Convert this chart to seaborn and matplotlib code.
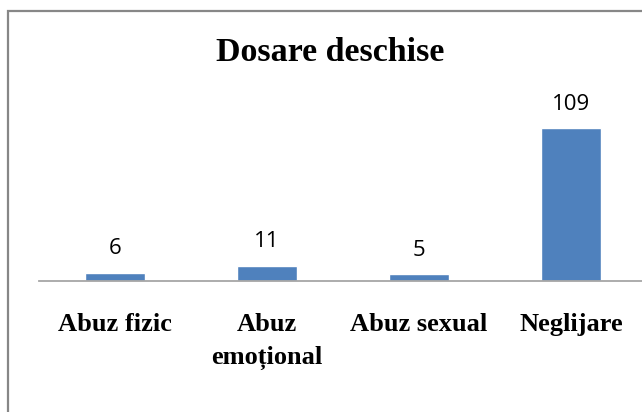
import matplotlib
matplotlib.use("Agg")
import matplotlib.pyplot as plt
import seaborn as sns
import pandas as pd
from matplotlib.patches import Rectangle

categories = ["Abuz fizic", "Abuz\nemoțional", "Abuz sexual", "Neglijare"]
values = [6, 11, 5, 109]
title = "Dosare deschise"

sns.set_theme(style="white")
plt.rcParams['font.family'] = ['Liberation Serif', 'DejaVu Serif']
plt.rcParams['text.color'] = 'black'
plt.rcParams['xtick.color'] = 'black'

df = pd.DataFrame({"cat": categories, "val": values})

W, H = 642, 412
fig = plt.figure(figsize=(W/100, H/100), dpi=100)
ax = fig.add_axes([39/W, (H-281)/H, 608/W, 181/H])

sns.barplot(data=df, x="cat", y="val", color="#4F81BD", width=0.395,
            saturation=1, ax=ax)
ax.set_ylim(0, 129)
ax.set_xlim(-0.5, 3.5)
ax.set_xlabel("")
ax.set_ylabel("")
ax.set_yticks([])
for s in ["top", "left", "right"]:
    ax.spines[s].set_visible(False)
ax.spines["bottom"].set_color("#a6a6a6")
ax.spines["bottom"].set_linewidth(1.3)
ax.tick_params(axis="x", length=0, pad=23)
ax.set_xticks(range(len(categories)))
ax.set_xticklabels(categories, fontsize=19, fontweight="bold", color="black",
                   family=['Liberation Serif', 'DejaVu Serif'], linespacing=1.55)

for i, v in enumerate(values):
    ax.annotate(str(v), (i, v), xytext=(0, 13.3), textcoords="offset points",
                ha="center", va="baseline", fontsize=16,
                family=['Open Sans', 'DejaVu Sans'], color="black")

fig.text(330/W, 1 - 61/H, title, ha="center", va="baseline", fontsize=24.5,
         fontweight="bold", color="black",
         family=['Liberation Serif', 'DejaVu Serif'])

fig.patches.append(Rectangle((7.5/W, -0.1), 1.2, 1 - 11.5/H + 0.1,
                             transform=fig.transFigure, fill=False,
                             edgecolor="#878787", linewidth=1.6))

fig.savefig("out.png", dpi=100)
